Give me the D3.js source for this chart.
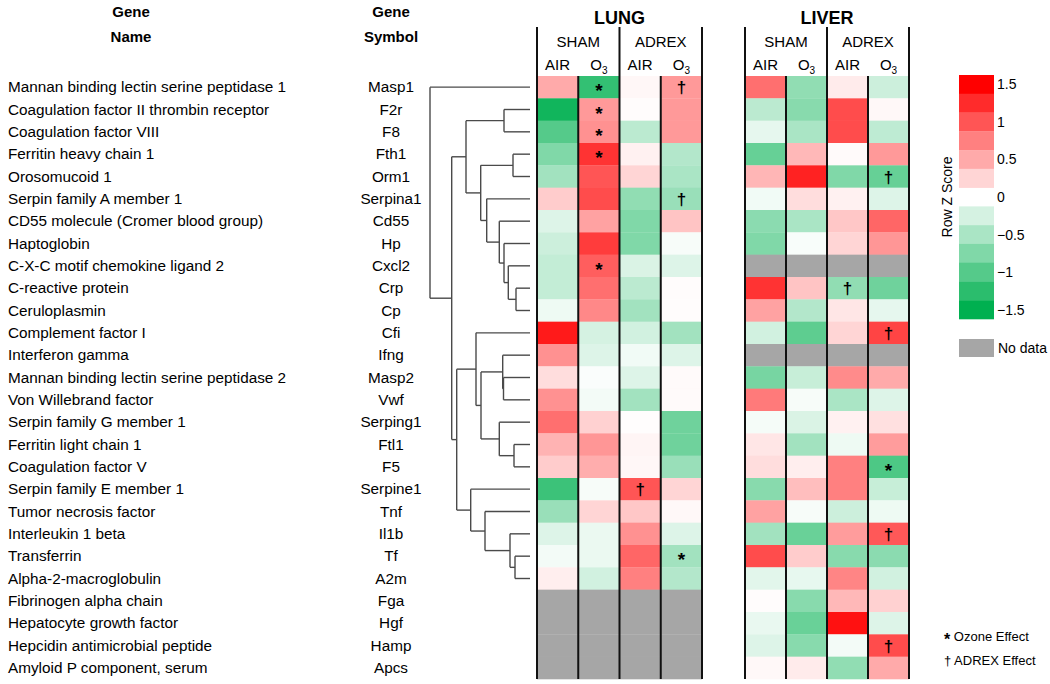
<!DOCTYPE html>
<html><head><meta charset="utf-8">
<script src="https://cdn.jsdelivr.net/npm/d3@7"></script>
<style>body{margin:0;background:#fff}svg{display:block;font-family:"Liberation Sans",Arial,sans-serif}</style>
</head><body><svg id="c" width="1050" height="684"></svg>
<script>
const geneNames = ["Mannan binding lectin serine peptidase 1","Coagulation factor II thrombin receptor","Coagulation factor VIII","Ferritin heavy chain 1","Orosomucoid 1","Serpin family A member 1","CD55 molecule (Cromer blood group)","Haptoglobin","C-X-C motif chemokine ligand 2","C-reactive protein","Ceruloplasmin","Complement factor I","Interferon gamma","Mannan binding lectin serine peptidase 2","Von Willebrand factor","Serpin family G member 1","Ferritin light chain 1","Coagulation factor V","Serpin family E member 1","Tumor necrosis factor","Interleukin 1 beta","Transferrin","Alpha-2-macroglobulin","Fibrinogen alpha chain","Hepatocyte growth factor","Hepcidin antimicrobial peptide","Amyloid P component, serum"];
const geneSymbols = ["Masp1","F2r","F8","Fth1","Orm1","Serpina1","Cd55","Hp","Cxcl2","Crp","Cp","Cfi","Ifng","Masp2","Vwf","Serping1","Ftl1","F5","Serpine1","Tnf","Il1b","Tf","A2m","Fga","Hgf","Hamp","Apcs"];
const tissues = ["LUNG","LIVER"];
const groups = ["SHAM","ADREX"];
const exposures = ["AIR","O3"];
// Row Z scores (null = no data)
const lungShamAir  = [0.5,-1.4,-1.0,-0.75,-0.55,0.3,-0.2,-0.3,-0.35,-0.35,-0.1,1.35,0.65,0.2,0.65,0.85,0.45,0.3,-1.15,-0.6,-0.2,-0.07,0.1,null,null,null,null];
const lungShamO3   = [-1.2,0.6,0.65,1.2,1.0,1.05,0.55,1.15,0.95,0.85,0.7,-0.25,-0.2,-0.03,-0.07,0.27,0.62,0.48,-0.05,0.25,-0.12,-0.12,-0.27,null,null,null,null];
const lungAdrexAir = [0.05,0.02,-0.4,0.08,0.25,-0.65,-0.75,-0.75,-0.22,-0.4,-0.55,-0.27,-0.08,-0.2,-0.55,0.01,0.06,0.05,1.0,0.33,0.65,0.9,0.75,null,null,null,null];
const lungAdrexO3  = [0.6,0.6,0.6,-0.45,-0.5,-0.6,0.35,-0.05,-0.2,0.02,0.02,-0.55,-0.2,0.03,0.03,-0.85,-0.85,-0.6,0.25,0.04,-0.2,-0.55,-0.45,null,null,null,null];
const liverShamAir  = [0.85,-0.4,-0.15,-0.9,0.43,-0.08,-0.68,-0.75,null,1.2,0.55,-0.27,null,-0.8,0.78,-0.06,0.15,0.2,-0.7,0.55,-0.55,1.05,-0.17,0.02,-0.13,-0.2,0.04];
const liverShamO3   = [-0.65,-0.7,-0.5,0.42,1.3,0.2,-0.5,-0.04,null,0.35,-0.45,-0.95,null,-0.33,-0.05,-0.22,-0.55,0.1,0.38,-0.05,-0.88,0.3,-0.14,-0.7,-0.88,-0.7,0.12];
const liverAdrexAir = [0.12,1.05,1.05,0.03,-0.75,0.08,0.33,0.25,null,-0.65,0.15,0.25,null,0.68,-0.5,0.08,-0.1,0.75,0.75,-0.3,0.58,-0.7,0.72,0.42,1.4,-0.07,-0.65];
const liverAdrexO3  = [-0.3,0.04,-0.38,0.6,-0.9,-0.2,0.9,0.62,null,-0.85,-0.15,1.1,null,0.5,-0.2,0.18,0.58,-1.05,-0.33,-0.1,0.98,-0.68,-0.27,0.27,-0.2,1.05,0.5];
// significance marks: [tissue, group, exposure, gene]
const ozoneEffect = [["LUNG","SHAM","O3","Masp1"],["LUNG","SHAM","O3","F2r"],["LUNG","SHAM","O3","F8"],["LUNG","SHAM","O3","Fth1"],["LUNG","SHAM","O3","Cxcl2"],["LUNG","ADREX","O3","Tf"],["LIVER","ADREX","O3","F5"]];
const adrexEffect = [["LUNG","ADREX","O3","Masp1"],["LUNG","ADREX","O3","Serpina1"],["LUNG","ADREX","AIR","Serpine1"],["LIVER","ADREX","AIR","Crp"],["LIVER","ADREX","O3","Orm1"],["LIVER","ADREX","O3","Cfi"],["LIVER","ADREX","O3","Il1b"],["LIVER","ADREX","O3","Hamp"]];
// dendrogram (merge heights)
const dendrogram = {h:100,c:["Masp1",{h:78.3,c:[
  {h:64,c:[{h:26,c:["F2r","F8"]},{h:49.3,c:[{h:17,c:["Fth1","Orm1"]},{h:43.3,c:["Serpina1",{h:30.7,c:["Cd55",{h:26,c:["Hp",{h:21.7,c:["Cxcl2",{h:14,c:["Crp","Cp"]}]}]}]}]}]}]},
  {h:73.3,c:[
    {h:54,c:["Cfi",{h:49,c:[{h:27.3,c:["Ifng",{h:26.5,c:["Masp2","Vwf"]}]},{h:30.7,c:["Serping1",{h:16,c:["Ftl1","F5"]}]}]}]},
    {h:59.3,c:["Serpine1",{h:45,c:["Tnf",{h:20,c:["Il1b",{h:15,c:["Tf","A2m"]}]}]}]}
  ]}
]}]};
const legendSteps = [1.5,1.25,1,0.75,0.5,0.25,0,-0.25,-0.5,-0.75,-1,-1.25,-1.5];
const legendTicks = [1.5,1,0.5,0,-0.5,-1,-1.5];

const svg = d3.select("#c");
const color = d3.scaleLinear().domain([-1.5,0,1.5]).range(["#00B050","#ffffff","#ff0000"]).clamp(true);
const noData = "#A6A6A6";
const y = d3.scaleBand().domain(geneSymbols).range([76,679]);
const tissueX = {LUNG:[537,702], LIVER:[745,909]};
const colKeys = [];
groups.forEach(g=>exposures.forEach(e=>colKeys.push(g+"|"+e)));
const xs = {};
tissues.forEach(t=>{ xs[t] = d3.scaleBand().domain(colKeys).range(tissueX[t]); });
const series = {
  "LUNG|SHAM|AIR":lungShamAir,"LUNG|SHAM|O3":lungShamO3,"LUNG|ADREX|AIR":lungAdrexAir,"LUNG|ADREX|O3":lungAdrexO3,
  "LIVER|SHAM|AIR":liverShamAir,"LIVER|SHAM|O3":liverShamO3,"LIVER|ADREX|AIR":liverAdrexAir,"LIVER|ADREX|O3":liverAdrexO3
};

// headers left
const hdr = svg.append("g").attr("font-weight","bold").attr("font-size",15).attr("text-anchor","middle").attr("fill","#000");
hdr.append("text").attr("x",131).attr("y",17).text("Gene");
hdr.append("text").attr("x",131).attr("y",42).text("Name");
hdr.append("text").attr("x",391).attr("y",17).text("Gene");
hdr.append("text").attr("x",391).attr("y",42).text("Symbol");

// gene labels
const lab = svg.append("g").attr("font-size",15.3).attr("fill","#000");
geneSymbols.forEach((s,i)=>{
  lab.append("text").attr("x",8).attr("y",y(s)+y.bandwidth()/2+5).text(geneNames[i]);
  lab.append("text").attr("x",391).attr("text-anchor","middle").attr("y",y(s)+y.bandwidth()/2+5).text(s);
});

// cells
tissues.forEach(t=>{
  const g = svg.append("g");
  groups.forEach(gr=>exposures.forEach(ex=>{
    const vals = series[t+"|"+gr+"|"+ex];
    const x = xs[t];
    g.selectAll(null).data(geneSymbols).enter().append("rect")
      .attr("x",x(gr+"|"+ex)).attr("width",x.bandwidth())
      .attr("y",d=>y(d)).attr("height",y.bandwidth()+0.3)
      .attr("fill",(d,i)=>vals[i]==null?noData:color(vals[i]));
  }));
  const x = xs[t];
  const [x0,x1] = tissueX[t];
  const ln = svg.append("g").attr("stroke","#111").attr("stroke-width",2);
  ln.append("line").attr("x1",x0).attr("x2",x0).attr("y1",27).attr("y2",679);
  ln.append("line").attr("x1",x1).attr("x2",x1).attr("y1",27).attr("y2",679);
  const mid = x("ADREX|AIR");
  ln.append("line").attr("x1",mid).attr("x2",mid).attr("y1",27).attr("y2",679);
  [x("SHAM|O3"),x("ADREX|O3")].forEach(xx=>ln.append("line").attr("x1",xx).attr("x2",xx).attr("y1",76).attr("y2",679));
  svg.append("text").attr("x",(x0+x1)/2).attr("y",24).attr("text-anchor","middle").attr("font-weight","bold").attr("font-size",18).text(t);
  groups.forEach(gr=>{
    const cx = (x(gr+"|AIR")+x(gr+"|O3")+x.bandwidth())/2;
    svg.append("text").attr("x",cx).attr("y",47).attr("text-anchor","middle").attr("font-size",15).text(gr);
    exposures.forEach(ex=>{
      const tx = svg.append("text").attr("x",x(gr+"|"+ex)+x.bandwidth()/2).attr("y",70).attr("text-anchor","middle").attr("font-size",15);
      if(ex==="O3"){ tx.append("tspan").text("O"); tx.append("tspan").attr("font-size",10).attr("dy",4).text("3"); }
      else tx.text(ex);
    });
  });
});

// marks
function drawMarks(list, ch, size, dy){
  list.forEach(([t,gr,ex,gene])=>{
    const x = xs[t];
    svg.append("text").attr("x",x(gr+"|"+ex)+x.bandwidth()/2).attr("y",y(gene)+y.bandwidth()/2+dy)
      .attr("text-anchor","middle").attr("font-size",size).attr("font-weight","bold").text(ch);
  });
}
drawMarks(ozoneEffect,"*",19,10);
drawMarks(adrexEffect,"†",17,6);

// dendrogram
const root = d3.hierarchy(dendrogram, d=>d.c);
const xD = d3.scaleLinear().domain([0,100]).range([530,430]);
root.eachAfter(n=>{
  if(!n.children){ n.py = y(n.data)+y.bandwidth()/2; n.px = xD(0); }
  else { n.py = (n.children[0].py + n.children[n.children.length-1].py)/2; n.px = xD(n.data.h); }
});
const dg = svg.append("g").attr("stroke","#4a4a4a").attr("stroke-width",1.4).attr("fill","none");
root.each(n=>{
  if(!n.children) return;
  dg.append("line").attr("x1",n.px).attr("x2",n.px).attr("y1",n.children[0].py).attr("y2",n.children[n.children.length-1].py);
  n.children.forEach(c=>dg.append("line").attr("x1",n.px).attr("x2",c.px).attr("y1",c.py).attr("y2",c.py));
});

// legend
const ly = d3.scaleBand().domain(legendSteps).range([75,319]);
const lg = svg.append("g");
lg.selectAll("rect").data(legendSteps.filter(v=>v!==0)).enter().append("rect")
  .attr("x",959).attr("width",35).attr("y",d=>ly(d)).attr("height",ly.bandwidth()+0.3).attr("fill",d=>color(d));
legendTicks.forEach(v=>{
  lg.append("text").attr("x",997).attr("y",ly(v)+ly.bandwidth()/2+5).attr("font-size",14).text(d3.format("")(v));
});
lg.append("text").attr("transform","translate(952,197) rotate(-90)").attr("text-anchor","middle").attr("font-size",14).text("Row Z Score");
lg.append("rect").attr("x",959).attr("y",339).attr("width",35).attr("height",18).attr("fill",noData);
lg.append("text").attr("x",998).attr("y",353).attr("font-size",14).text("No data");

// footnotes
const fn = svg.append("g").attr("font-size",13);
const f1 = fn.append("text").attr("x",944).attr("y",641);
f1.append("tspan").attr("font-weight","bold").attr("font-size",16).attr("dy",4).text("*");
f1.append("tspan").attr("dy",-4).text(" Ozone Effect");
fn.append("text").attr("x",944).attr("y",665).text("† ADREX Effect");
</script></body></html>
